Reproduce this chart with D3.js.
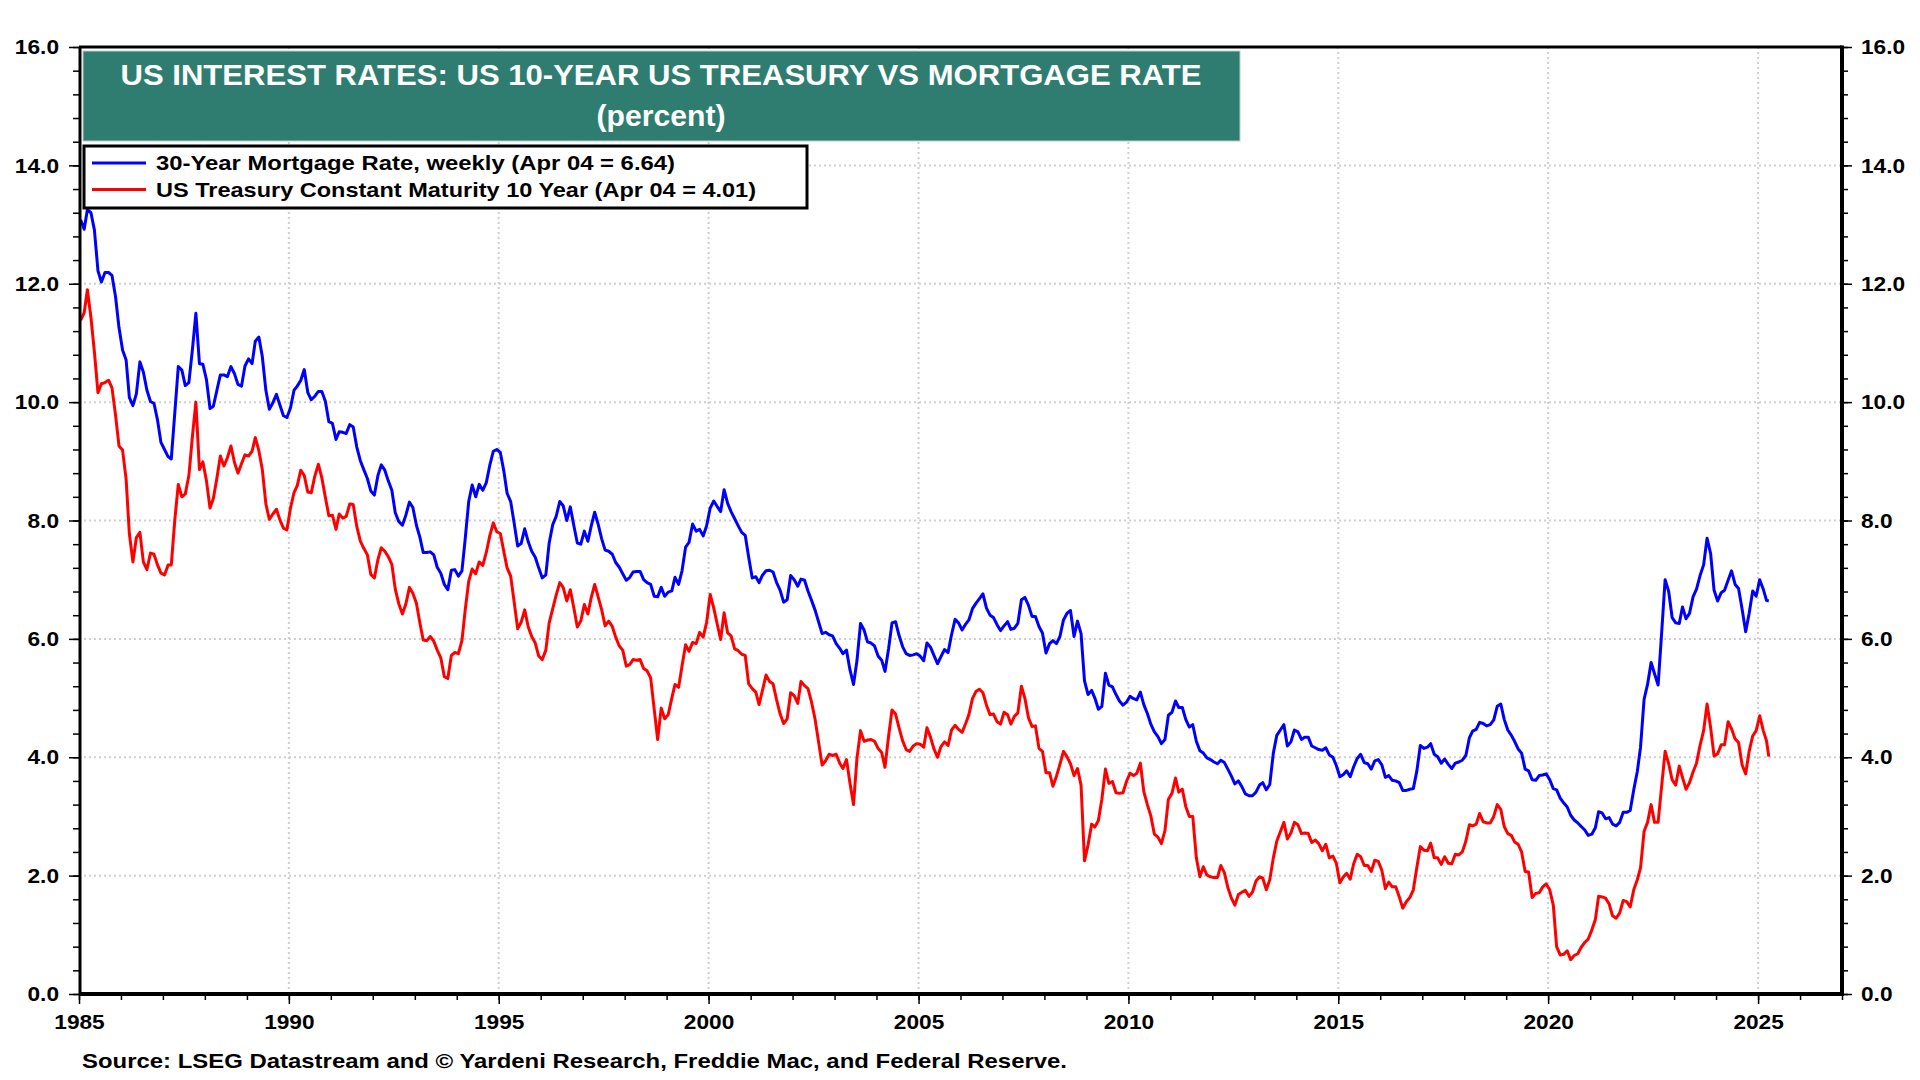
<!DOCTYPE html>
<html>
<head>
<meta charset="utf-8">
<script src="https://cdn.jsdelivr.net/npm/d3@7"></script>
<style>
  body { margin: 0; background: #fff; }
  svg text { font-family: "Liberation Sans", Arial, sans-serif; font-weight: bold; }
</style>
</head>
<body>
<div id="chart"></div>
<script>
// monthly values, Jan 1985 .. Apr 2025 (last point = Apr 04, 2025)
const startYear = 1985;
const lastDate = new Date(2025, 3, 4);

const mortgageRate = [
  13.08, 12.92, 13.25, 13.20, 12.91, 12.22, 12.03, 12.19, 12.19, 12.14, 11.78, 11.26,
  10.88, 10.71, 10.08, 9.94, 10.14, 10.68, 10.51, 10.20, 10.01, 9.98, 9.70, 9.32,
  9.20, 9.08, 9.04, 9.83, 10.60, 10.54, 10.28, 10.33, 10.89, 11.50, 10.65, 10.64,
  10.38, 9.89, 9.93, 10.20, 10.46, 10.46, 10.43, 10.60, 10.48, 10.30, 10.27, 10.61,
  10.73, 10.65, 11.03, 11.10, 10.77, 10.20, 9.88, 9.99, 10.13, 9.95, 9.77, 9.74,
  9.90, 10.20, 10.27, 10.37, 10.55, 10.16, 10.04, 10.10, 10.18, 10.18, 10.01, 9.67,
  9.64, 9.37, 9.50, 9.49, 9.47, 9.62, 9.58, 9.24, 9.01, 8.86, 8.71, 8.50,
  8.43, 8.76, 8.94, 8.85, 8.67, 8.51, 8.13, 7.98, 7.92, 8.09, 8.31, 8.22,
  7.92, 7.71, 7.46, 7.46, 7.47, 7.42, 7.21, 7.11, 6.92, 6.83, 7.16, 7.17,
  7.06, 7.15, 7.68, 8.32, 8.60, 8.40, 8.61, 8.51, 8.64, 8.93, 9.17, 9.20,
  9.15, 8.83, 8.46, 8.32, 7.96, 7.57, 7.61, 7.86, 7.64, 7.48, 7.38, 7.20,
  7.03, 7.08, 7.62, 7.93, 8.07, 8.32, 8.25, 8.00, 8.23, 7.92, 7.62, 7.60,
  7.82, 7.65, 7.90, 8.14, 7.94, 7.69, 7.50, 7.48, 7.43, 7.29, 7.21, 7.10,
  6.99, 7.04, 7.13, 7.14, 7.14, 7.00, 6.95, 6.92, 6.72, 6.71, 6.87, 6.72,
  6.79, 6.81, 7.04, 6.92, 7.15, 7.55, 7.63, 7.94, 7.82, 7.85, 7.74, 7.91,
  8.21, 8.33, 8.24, 8.15, 8.52, 8.29, 8.15, 8.03, 7.91, 7.80, 7.75, 7.38,
  7.03, 7.05, 6.95, 7.08, 7.15, 7.16, 7.13, 6.95, 6.82, 6.62, 6.66, 7.07,
  7.00, 6.89, 7.01, 6.99, 6.81, 6.65, 6.49, 6.29, 6.09, 6.11, 6.07, 6.05,
  5.92, 5.84, 5.75, 5.81, 5.48, 5.23, 5.63, 6.26, 6.15, 5.95, 5.93, 5.88,
  5.71, 5.64, 5.45, 5.83, 6.27, 6.29, 6.06, 5.87, 5.75, 5.72, 5.73, 5.75,
  5.71, 5.63, 5.93, 5.86, 5.72, 5.58, 5.70, 5.82, 5.77, 6.07, 6.33, 6.27,
  6.15, 6.25, 6.32, 6.51, 6.60, 6.68, 6.76, 6.52, 6.40, 6.36, 6.24, 6.14,
  6.22, 6.29, 6.16, 6.18, 6.26, 6.66, 6.70, 6.57, 6.38, 6.38, 6.21, 6.10,
  5.76, 5.92, 5.97, 5.92, 6.04, 6.32, 6.43, 6.48, 6.04, 6.30, 6.09, 5.29,
  5.06, 5.13, 5.00, 4.81, 4.86, 5.42, 5.22, 5.19, 5.06, 4.95, 4.88, 4.93,
  5.03, 4.99, 4.97, 5.10, 4.89, 4.74, 4.56, 4.43, 4.35, 4.23, 4.30, 4.71,
  4.76, 4.95, 4.84, 4.84, 4.64, 4.51, 4.55, 4.27, 4.11, 4.07, 3.99, 3.96,
  3.92, 3.89, 3.95, 3.91, 3.80, 3.68, 3.55, 3.60, 3.50, 3.38, 3.35, 3.35,
  3.41, 3.53, 3.57, 3.45, 3.54, 4.07, 4.37, 4.46, 4.55, 4.19, 4.26, 4.46,
  4.43, 4.30, 4.34, 4.34, 4.19, 4.16, 4.13, 4.12, 4.16, 4.04, 4.00, 3.86,
  3.67, 3.71, 3.77, 3.67, 3.84, 3.98, 4.05, 3.91, 3.89, 3.80, 3.94, 3.96,
  3.87, 3.66, 3.69, 3.61, 3.60, 3.57, 3.44, 3.44, 3.46, 3.47, 3.77, 4.20,
  4.15, 4.17, 4.23, 4.05, 4.01, 3.90, 3.97, 3.88, 3.81, 3.90, 3.92, 3.95,
  4.03, 4.33, 4.44, 4.47, 4.59, 4.57, 4.53, 4.55, 4.63, 4.86, 4.90, 4.64,
  4.46, 4.37, 4.27, 4.14, 4.07, 3.80, 3.77, 3.62, 3.61, 3.69, 3.70, 3.72,
  3.62, 3.47, 3.45, 3.31, 3.23, 3.16, 3.02, 2.94, 2.89, 2.83, 2.77, 2.68,
  2.70, 2.81, 3.08, 3.06, 2.96, 2.98, 2.87, 2.84, 2.90, 3.07, 3.07, 3.10,
  3.45, 3.76, 4.17, 4.98, 5.23, 5.60, 5.41, 5.22, 6.11, 7.00, 6.80, 6.36,
  6.27, 6.26, 6.54, 6.34, 6.43, 6.71, 6.84, 7.07, 7.25, 7.70, 7.44, 6.82,
  6.64, 6.78, 6.82, 6.99, 7.15, 6.92, 6.85, 6.50, 6.12, 6.43, 6.81, 6.72,
  7.00, 6.84, 6.65, 6.64
];

const treasury10y = [
  11.38, 11.51, 11.90, 11.43, 10.85, 10.16, 10.31, 10.33, 10.37, 10.24, 9.78, 9.26,
  9.19, 8.70, 7.78, 7.30, 7.71, 7.80, 7.30, 7.17, 7.45, 7.43, 7.25, 7.11,
  7.08, 7.25, 7.25, 8.02, 8.61, 8.40, 8.45, 8.76, 9.42, 10.00, 8.86, 8.99,
  8.67, 8.21, 8.37, 8.72, 9.09, 8.92, 9.06, 9.26, 8.98, 8.80, 8.96, 9.11,
  9.09, 9.17, 9.40, 9.18, 8.86, 8.28, 8.02, 8.11, 8.19, 8.01, 7.87, 7.84,
  8.21, 8.47, 8.59, 8.85, 8.76, 8.48, 8.47, 8.75, 8.95, 8.72, 8.39, 8.08,
  8.09, 7.85, 8.11, 8.04, 8.07, 8.28, 8.27, 7.90, 7.65, 7.53, 7.42, 7.09,
  7.03, 7.34, 7.54, 7.48, 7.39, 7.26, 6.84, 6.59, 6.42, 6.59, 6.87, 6.77,
  6.60, 6.26, 5.98, 5.97, 6.04, 5.96, 5.81, 5.68, 5.36, 5.33, 5.72, 5.77,
  5.75, 5.97, 6.48, 6.97, 7.18, 7.10, 7.30, 7.24, 7.46, 7.74, 7.96, 7.81,
  7.78, 7.47, 7.20, 7.06, 6.63, 6.17, 6.28, 6.49, 6.20, 6.04, 5.93, 5.71,
  5.65, 5.81, 6.27, 6.51, 6.74, 6.95, 6.87, 6.64, 6.83, 6.53, 6.20, 6.30,
  6.58, 6.42, 6.69, 6.92, 6.71, 6.49, 6.22, 6.30, 6.21, 6.03, 5.88, 5.81,
  5.54, 5.57, 5.65, 5.64, 5.65, 5.50, 5.46, 5.34, 4.81, 4.30, 4.83, 4.65,
  4.72, 5.00, 5.23, 5.18, 5.54, 5.90, 5.79, 5.94, 5.92, 6.11, 6.03, 6.28,
  6.75, 6.52, 6.26, 5.99, 6.44, 6.10, 6.05, 5.83, 5.80, 5.74, 5.72, 5.24,
  5.16, 5.10, 4.89, 5.14, 5.39, 5.28, 5.24, 4.97, 4.73, 4.57, 4.65, 5.09,
  5.04, 4.91, 5.28, 5.21, 5.16, 4.93, 4.65, 4.26, 3.87, 3.94, 4.05, 4.03,
  4.05, 3.90, 3.81, 3.96, 3.57, 3.20, 3.98, 4.45, 4.27, 4.29, 4.30, 4.27,
  4.15, 4.08, 3.83, 4.35, 4.80, 4.73, 4.50, 4.28, 4.13, 4.10, 4.19, 4.23,
  4.22, 4.17, 4.50, 4.34, 4.14, 4.00, 4.18, 4.26, 4.20, 4.46, 4.54, 4.47,
  4.42, 4.57, 4.72, 4.99, 5.11, 5.15, 5.09, 4.88, 4.72, 4.73, 4.60, 4.56,
  4.76, 4.72, 4.56, 4.69, 4.75, 5.20, 5.00, 4.67, 4.52, 4.53, 4.15, 4.10,
  3.74, 3.74, 3.51, 3.68, 3.88, 4.10, 4.01, 3.89, 3.69, 3.81, 3.53, 2.25,
  2.52, 2.87, 2.82, 2.93, 3.29, 3.80, 3.56, 3.59, 3.40, 3.39, 3.40, 3.59,
  3.73, 3.69, 3.73, 3.90, 3.42, 3.20, 3.01, 2.70, 2.65, 2.54, 2.76, 3.29,
  3.39, 3.65, 3.41, 3.46, 3.17, 3.00, 3.00, 2.30, 1.98, 2.15, 2.01, 1.98,
  1.97, 1.97, 2.17, 2.05, 1.80, 1.62, 1.50, 1.68, 1.72, 1.75, 1.65, 1.72,
  1.91, 1.98, 1.96, 1.76, 1.93, 2.30, 2.58, 2.74, 2.90, 2.62, 2.72, 2.90,
  2.86, 2.71, 2.72, 2.71, 2.56, 2.60, 2.54, 2.42, 2.53, 2.30, 2.33, 2.21,
  1.88, 1.98, 2.04, 1.94, 2.20, 2.36, 2.32, 2.17, 2.17, 2.07, 2.26, 2.24,
  2.09, 1.78, 1.89, 1.81, 1.81, 1.64, 1.45, 1.56, 1.63, 1.76, 2.14, 2.49,
  2.43, 2.42, 2.55, 2.30, 2.30, 2.19, 2.32, 2.21, 2.20, 2.36, 2.35, 2.40,
  2.58, 2.86, 2.84, 2.87, 3.05, 2.91, 2.89, 2.89, 3.00, 3.20, 3.12, 2.83,
  2.71, 2.68, 2.57, 2.53, 2.40, 2.07, 2.06, 1.63, 1.70, 1.71, 1.81, 1.86,
  1.76, 1.50, 0.80, 0.66, 0.67, 0.73, 0.58, 0.65, 0.68, 0.79, 0.87, 0.93,
  1.08, 1.26, 1.65, 1.64, 1.62, 1.52, 1.32, 1.28, 1.37, 1.58, 1.56, 1.47,
  1.76, 1.93, 2.13, 2.75, 2.90, 3.20, 2.90, 2.90, 3.52, 4.10, 3.89, 3.62,
  3.53, 3.85, 3.66, 3.46, 3.57, 3.75, 3.90, 4.20, 4.45, 4.90, 4.50, 4.02,
  4.06, 4.21, 4.21, 4.60, 4.48, 4.31, 4.25, 3.87, 3.72, 4.10, 4.36, 4.45,
  4.70, 4.45, 4.28, 4.01
];

const yTicks = [0, 2, 4, 6, 8, 10, 12, 14, 16];
const xTickYears = [1985, 1990, 1995, 2000, 2005, 2010, 2015, 2020, 2025];
const titleLines = ["US INTEREST RATES: US 10-YEAR US TREASURY VS MORTGAGE RATE", "(percent)"];
const legendLabels = [
  "30-Year Mortgage Rate, weekly (Apr 04 = 6.64)",
  "US Treasury Constant Maturity 10 Year (Apr 04 = 4.01)"
];
const seriesColors = ["#0000ff", "#ff0000"];
const sourceText = "Source: LSEG Datastream and \u00a9 Yardeni Research, Freddie Mac, and Federal Reserve.";

function monthDate(i, n) {
  return i === n - 1 ? lastDate : new Date(startYear, i, 15);
}

const mortgageData = mortgageRate.map((v, i) => ({date: monthDate(i, mortgageRate.length), value: v}));
const treasuryData = treasury10y.map((v, i) => ({date: monthDate(i, treasury10y.length), value: v}));

// the original font runs wider than Liberation Sans, so stretch text to its width
function widen(sel, k) {
  sel.each(function() {
    const w = this.getComputedTextLength();
    d3.select(this).attr("textLength", w * k).attr("lengthAdjust", "spacingAndGlyphs");
  });
}
function fitTo(sel, w) {
  sel.attr("textLength", w).attr("lengthAdjust", "spacingAndGlyphs");
}

// plot frame
const plotLeft = 79, plotRight = 1842, plotTop = 47, plotBottom = 994;

const svg = d3.select("#chart").append("svg")
    .attr("width", 1920)
    .attr("height", 1080)
    .style("background", "#fff");

const x = d3.scaleTime()
    .domain([new Date(1985, 0, 1), new Date(2027, 0, 1)])
    .range([plotLeft, plotRight]);
const y = d3.scaleLinear().domain([0, 16]).range([plotBottom, plotTop]);

// dotted grid
const grid = svg.append("g")
    .attr("stroke", "#cfcfcf")
    .attr("stroke-width", 2)
    .attr("stroke-dasharray", "2,3");
grid.selectAll(".hg").data(yTicks.filter(d => d > 0 && d < 16)).enter().append("line")
    .attr("x1", plotLeft).attr("x2", plotRight)
    .attr("y1", d => y(d)).attr("y2", d => y(d));
grid.selectAll(".vg").data(xTickYears.filter(d => d > 1985)).enter().append("line")
    .attr("x1", d => x(new Date(d, 0, 1))).attr("x2", d => x(new Date(d, 0, 1)))
    .attr("y1", plotTop).attr("y2", plotBottom);

// lines
svg.append("clipPath").attr("id", "clip").append("rect")
    .attr("x", plotLeft).attr("y", plotTop)
    .attr("width", plotRight - plotLeft).attr("height", plotBottom - plotTop);

const line = d3.line().x(d => x(d.date)).y(d => y(d.value));

[mortgageData, treasuryData].forEach((data, i) => {
  svg.append("path")
      .datum(data)
      .attr("clip-path", "url(#clip)")
      .attr("fill", "none")
      .attr("stroke", seriesColors[i])
      .attr("stroke-width", 3)
      .attr("stroke-linejoin", "round")
      .attr("d", line);
});

// axes
const minorY = d3.range(0, 16.01, 0.4);
const minorYears = d3.range(1985, 2028).map(d => new Date(d, 0, 1));
const majorYears = xTickYears.map(d => new Date(d, 0, 1));

function styleAxis(g) {
  g.select(".domain").remove();
  g.selectAll("line").attr("stroke", "#000").attr("stroke-width", 1.5);
  g.selectAll("text").attr("fill", "#000").style("font-size", "21px").call(widen, 1.08);
}

svg.append("g").attr("transform", `translate(${plotLeft},0)`)
    .call(d3.axisLeft(y).tickValues(minorY).tickSize(6).tickFormat(""))
    .call(styleAxis);
svg.append("g").attr("transform", `translate(${plotLeft},0)`)
    .call(d3.axisLeft(y).tickValues(yTicks).tickSize(10).tickPadding(10).tickFormat(d3.format(".1f")))
    .call(styleAxis);
svg.append("g").attr("transform", `translate(${plotRight},0)`)
    .call(d3.axisRight(y).tickValues(minorY).tickSize(6).tickFormat(""))
    .call(styleAxis);
svg.append("g").attr("transform", `translate(${plotRight},0)`)
    .call(d3.axisRight(y).tickValues(yTicks).tickSize(10).tickPadding(9).tickFormat(d3.format(".1f")))
    .call(styleAxis);
svg.append("g").attr("transform", `translate(0,${plotBottom})`)
    .call(d3.axisBottom(x).tickValues(minorYears).tickSize(6).tickFormat(""))
    .call(styleAxis);
svg.append("g").attr("transform", `translate(0,${plotBottom})`)
    .call(d3.axisBottom(x).tickValues(majorYears).tickSize(10).tickPadding(10).tickFormat(d3.timeFormat("%Y")))
    .call(styleAxis);

// frame borders
const frame = svg.append("g").attr("stroke", "#000");
frame.append("line").attr("x1", plotLeft).attr("x2", plotRight)
    .attr("y1", plotTop).attr("y2", plotTop).attr("stroke-width", 3);
frame.append("line").attr("x1", plotLeft + 1).attr("x2", plotLeft + 1)
    .attr("y1", plotTop).attr("y2", plotBottom).attr("stroke-width", 3);
frame.append("line").attr("x1", plotRight).attr("x2", plotRight)
    .attr("y1", plotTop - 1.5).attr("y2", plotBottom + 2).attr("stroke-width", 4);
frame.append("line").attr("x1", plotLeft).attr("x2", plotRight)
    .attr("y1", plotBottom).attr("y2", plotBottom).attr("stroke-width", 4);

// title box
svg.append("rect")
    .attr("x", 83).attr("y", 51).attr("width", 1157).attr("height", 90)
    .attr("fill", "#2e7d70").attr("stroke", "#b9d0ca").attr("stroke-width", 1);
const titleWidths = [1081, 129];
svg.selectAll(".title").data(titleLines).enter().append("text")
    .attr("x", 661)
    .attr("y", (d, i) => 85 + i * 41)
    .attr("text-anchor", "middle")
    .attr("fill", "#fff")
    .style("font-size", "30px")
    .attr("textLength", (d, i) => titleWidths[i])
    .attr("lengthAdjust", "spacingAndGlyphs")
    .text(d => d);

// legend
const legendWidths = [519, 600];
svg.append("rect")
    .attr("x", 84).attr("y", 146).attr("width", 723).attr("height", 62)
    .attr("fill", "#fff").attr("stroke", "#000").attr("stroke-width", 3);
legendLabels.forEach((label, i) => {
  svg.append("line")
      .attr("x1", 92).attr("x2", 146)
      .attr("y1", 163 + i * 26.5).attr("y2", 163 + i * 26.5)
      .attr("stroke", seriesColors[i]).attr("stroke-width", 3);
  svg.append("text")
      .attr("x", 156).attr("y", 170 + i * 26.5)
      .attr("fill", "#000")
      .style("font-size", "21px")
      .text(label)
      .call(fitTo, legendWidths[i]);
});

// source
svg.append("text")
    .attr("x", 82).attr("y", 1068)
    .attr("fill", "#000")
    .style("font-size", "21px")
    .text(sourceText)
    .call(fitTo, 985);
</script>
</body>
</html>
